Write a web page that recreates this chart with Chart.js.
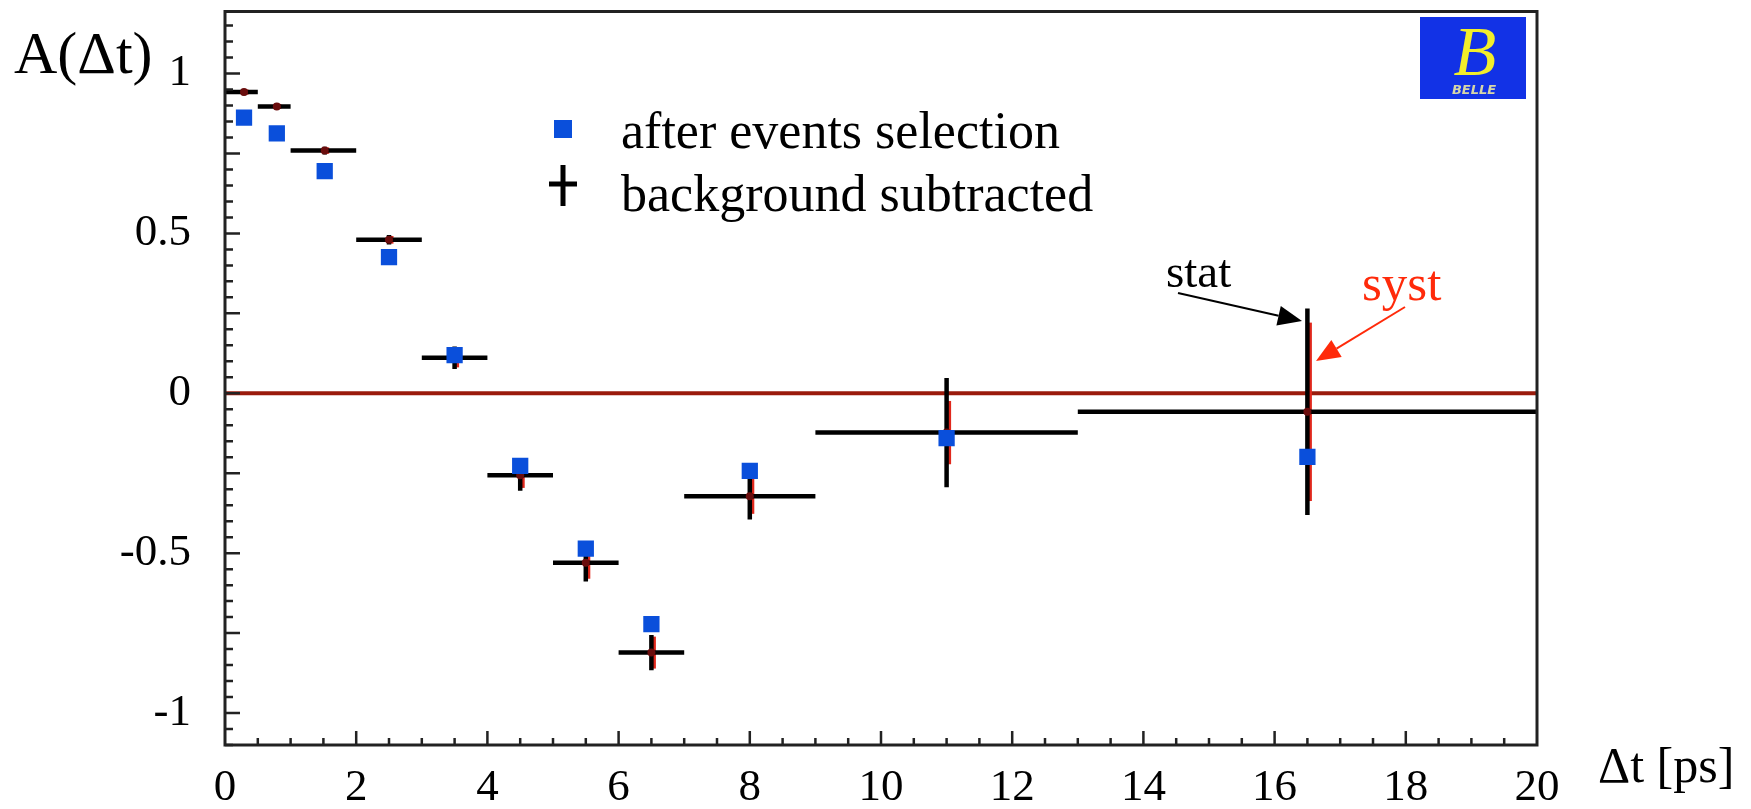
<!DOCTYPE html>
<html><head><meta charset="utf-8">
<script src="https://cdn.jsdelivr.net/npm/chart.js@4.4.1/dist/chart.umd.min.js"></script>
<style>html,body{margin:0;padding:0;background:#fff;}</style>
</head><body>
<canvas id="c" width="1751" height="809"></canvas>
<script>
// ---- data ----
const binLow    = [0, 0.5, 1, 2, 3, 4, 5, 6, 7, 9, 13];
const binHigh   = [0.5, 1, 2, 3, 4, 5, 6, 7, 9, 13, 20];
const binCenter = [0.29, 0.79, 1.52, 2.5, 3.5, 4.5, 5.5, 6.5, 8, 11, 16.5];
const bgSubtracted   = [0.942, 0.897, 0.759, 0.480, 0.111, -0.256, -0.530, -0.811, -0.322, -0.123, -0.058];
const statErr        = [0.010, 0.010, 0.012, 0.015, 0.035, 0.049, 0.059, 0.055, 0.073, 0.171, 0.323];
const systErr        = [0.008, 0.008, 0.010, 0.012, 0.030, 0.040, 0.050, 0.050, 0.055, 0.099, 0.279];
const afterSelection = [0.862, 0.813, 0.695, 0.426, 0.119, -0.227, -0.486, -0.722, -0.243, -0.140, -0.199];
const refLineX = [0, 20];
const refLineY = [0, 0];
const xTickValues = [0, 2, 4, 6, 8, 10, 12, 14, 16, 18, 20];
const yTickValues = [-1, -0.5, 0, 0.5, 1];
const legendLabels = ['after events selection', 'background subtracted'];
const yTitle = 'A(\u0394t)';
const xTitle = '\u0394t [ps]';

const SERIF = '"Liberation Serif", "Times New Roman", serif';

function arrow(ctx, x1, y1, x2, y2, color, w, hl, hw) {
  const a = Math.atan2(y2 - y1, x2 - x1);
  const bx = x2 - hl * Math.cos(a), by = y2 - hl * Math.sin(a);
  ctx.save();
  ctx.strokeStyle = color; ctx.fillStyle = color; ctx.lineWidth = w;
  ctx.beginPath(); ctx.moveTo(x1, y1); ctx.lineTo(bx, by); ctx.stroke();
  ctx.beginPath();
  ctx.moveTo(x2, y2);
  ctx.lineTo(bx + hw / 2 * Math.sin(a), by - hw / 2 * Math.cos(a));
  ctx.lineTo(bx - hw / 2 * Math.sin(a), by + hw / 2 * Math.cos(a));
  ctx.closePath(); ctx.fill();
  ctx.restore();
}

const decor = {
  id: 'decor',
  afterDatasetDraw(chart, args) {
    if (args.index !== 2) return;
    const ctx = chart.ctx, xs = chart.scales.x, ys = chart.scales.y;
    ctx.save();
    ctx.lineCap = 'butt';
    for (let i = 0; i < binCenter.length; i++) {
      const px = xs.getPixelForValue(binCenter[i]);
      const py = ys.getPixelForValue(bgSubtracted[i]);
      // systematic (red), slightly offset
      ctx.strokeStyle = '#e0281c'; ctx.lineWidth = 3;
      ctx.beginPath();
      ctx.moveTo(px + 3, ys.getPixelForValue(bgSubtracted[i] + systErr[i]));
      ctx.lineTo(px + 3, ys.getPixelForValue(bgSubtracted[i] - systErr[i]));
      ctx.stroke();
      // statistical + bin width (black)
      ctx.strokeStyle = '#000'; ctx.lineWidth = 4.5;
      ctx.beginPath();
      ctx.moveTo(xs.getPixelForValue(binLow[i]), py);
      ctx.lineTo(xs.getPixelForValue(binHigh[i]), py);
      ctx.moveTo(px, ys.getPixelForValue(bgSubtracted[i] + statErr[i]));
      ctx.lineTo(px, ys.getPixelForValue(bgSubtracted[i] - statErr[i]));
      ctx.stroke();
    }
    ctx.restore();
  },
  afterDraw(chart) {
    const ctx = chart.ctx, a = chart.chartArea, xs = chart.scales.x, ys = chart.scales.y;
    ctx.save();
    // frame
    ctx.strokeStyle = '#222'; ctx.lineWidth = 3;
    ctx.strokeRect(a.left, a.top, a.right - a.left, a.bottom - a.top);
    // inward ticks
    ctx.lineWidth = 2.5; ctx.strokeStyle = '#222';
    ctx.beginPath();
    for (let k = -22; k <= 23; k++) {
      const v = k * 0.05;
      if (v < ys.min || v > ys.max) continue;
      const p = ys.getPixelForValue(v);
      const len = (k % 5 === 0) ? 15 : 8;
      ctx.moveTo(a.left, p); ctx.lineTo(a.left + len, p);
    }
    for (let k = 1; k < 40; k++) {
      const v = k * 0.5;
      const p = xs.getPixelForValue(v);
      const len = (k % 4 === 0) ? 14 : 7;
      ctx.moveTo(p, a.bottom); ctx.lineTo(p, a.bottom - len);
    }
    ctx.stroke();

    // axis titles
    ctx.fillStyle = '#000';
    ctx.textBaseline = 'alphabetic'; ctx.textAlign = 'left';
    ctx.font = '60px ' + SERIF;
    ctx.fillText(yTitle, 14, 73);
    ctx.font = '50px ' + SERIF;
    ctx.fillText(xTitle, 1598, 782);

    // legend
    ctx.fillStyle = '#0a4fdb';
    ctx.fillRect(554, 120, 18, 18);
    ctx.strokeStyle = '#000'; ctx.lineWidth = 5;
    ctx.beginPath();
    ctx.moveTo(563, 165); ctx.lineTo(563, 206);
    ctx.moveTo(549, 184); ctx.lineTo(577, 184);
    ctx.stroke();
    ctx.fillStyle = '#000';
    ctx.font = '52px ' + SERIF;
    ctx.fillText(legendLabels[0], 621, 148);
    ctx.fillText(legendLabels[1], 621, 211);

    // stat / syst annotations
    ctx.font = '47px ' + SERIF;
    ctx.fillStyle = '#000';
    ctx.fillText('stat', 1166, 287);
    ctx.font = '51px ' + SERIF;
    ctx.fillStyle = '#ff2a0a';
    ctx.fillText('syst', 1362, 300);
    arrow(ctx, 1178, 293, 1302, 321, '#000', 2, 24, 20);
    arrow(ctx, 1405, 307, 1316, 361, '#ff2a0a', 2, 24, 20);

    // Belle logo
    ctx.fillStyle = '#1232e6';
    ctx.fillRect(1420, 17, 106, 82);
    ctx.fillStyle = '#f2ee2a';
    ctx.textAlign = 'center';
    ctx.font = 'italic 70px ' + SERIF;
    ctx.fillText('B', 1475, 75);
    ctx.font = 'italic bold 13px "DejaVu Sans", sans-serif';
    ctx.fillStyle = '#d6d6a8';
    ctx.fillText('BELLE', 1474, 94);
    ctx.restore();
  }
};

const ctx = document.getElementById('c').getContext('2d');
new Chart(ctx, {
  type: 'scatter',
  data: {
    datasets: [
      {
        label: legendLabels[0],
        data: binCenter.map((x, i) => ({ x: x, y: afterSelection[i] })),
        pointStyle: 'rect', pointRadius: 11.5, pointHoverRadius: 11.5,
        backgroundColor: '#0a4fdb', borderWidth: 0
      },
      {
        label: legendLabels[1],
        data: binCenter.map((x, i) => ({ x: x, y: bgSubtracted[i] })),
        pointStyle: 'circle', pointRadius: 4, pointHoverRadius: 4,
        backgroundColor: '#6a0d0d', borderWidth: 0
      },
      {
        type: 'line',
        label: 'reference',
        data: refLineX.map((x, i) => ({ x: x, y: refLineY[i] })),
        borderColor: '#9a1b0c', borderWidth: 4, pointRadius: 0, fill: false
      }
    ]
  },
  options: {
    responsive: false,
    animation: false,
    devicePixelRatio: 1,
    layout: { padding: { left: 0, top: 11, right: 214, bottom: 0 } },
    plugins: { legend: { display: false }, tooltip: { enabled: false } },
    scales: {
      x: {
        type: 'linear', min: 0, max: 20,
        grid: { display: false, drawTicks: false },
        border: { display: false },
        afterBuildTicks: s => { s.ticks = xTickValues.map(v => ({ value: v })); },
        afterFit: s => { s.height = 64; s.paddingLeft = 0; s.paddingRight = 0; },
        ticks: {
          autoSkip: false, maxRotation: 0, padding: 16, color: '#000',
          font: { family: SERIF, size: 45 },
          callback: v => String(v)
        }
      },
      y: {
        type: 'linear', min: -1.1, max: 1.194,
        grid: { display: false, drawTicks: false },
        border: { display: false },
        afterBuildTicks: s => { s.ticks = yTickValues.map(v => ({ value: v })); },
        afterFit: s => { s.width = 225; s.paddingTop = 0; s.paddingBottom = 0; },
        ticks: {
          padding: 34, color: '#000',
          font: { family: SERIF, size: 45 },
          callback: v => String(v)
        }
      }
    }
  },
  plugins: [decor]
});
</script>
</body></html>
